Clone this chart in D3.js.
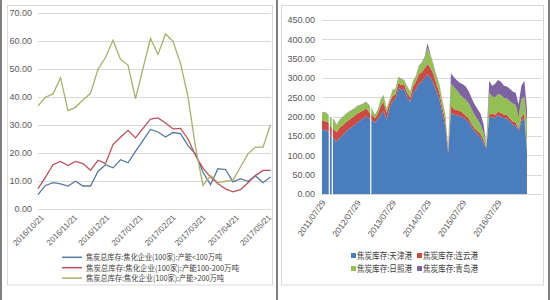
<!DOCTYPE html>
<html>
<head>
<meta charset="utf-8">
<script src="https://cdn.jsdelivr.net/npm/d3@7"></script>
<style>
  body { margin: 0; background: #fff; }
  text { font-family: "Liberation Sans", Arial, sans-serif; }
  .cjk { font-family: "Noto Sans CJK SC", sans-serif; }
</style>
</head>
<body>
<script>
/* DATA - left chart (weekly coke stock at coking plants) */
const weekDates = ["2016/10/21","2016/10/28","2016/11/04","2016/11/11","2016/11/18","2016/11/25",
  "2016/12/02","2016/12/09","2016/12/16","2016/12/23","2016/12/30","2017/01/06","2017/01/13",
  "2017/01/20","2017/01/27","2017/02/03","2017/02/10","2017/02/17","2017/02/24","2017/03/03",
  "2017/03/10","2017/03/17","2017/03/24","2017/03/31","2017/04/07","2017/04/14","2017/04/21",
  "2017/04/28","2017/05/05","2017/05/12","2017/05/19","2017/05/26"];
const capSmall = [5, 8.3, 9.3, 8.9, 8.1, 9.8, 8.1, 8.1, 13.3, 15.7, 14.6, 17.5, 16.4, 20.5, 24.4, 28.3,
  27.4, 25.6, 27.2, 26.8, 22.5, 19.5, 13, 8.6, 14.3, 14, 9.6, 10.7, 9.8, 11.7, 9.3, 11.3];
const capMid = [7.2, 11.3, 15.7, 16.9, 15.4, 16.9, 16.1, 13.7, 17.3, 16.1, 22.9, 25.5, 28, 25.3, 28.7, 32,
  32.4, 30.6, 28.5, 28.7, 24.9, 19, 14.5, 11.3, 8.9, 7.1, 6, 6.8, 9.3, 11.9, 13.7, 13.7];
const capBig = [36.7, 39.8, 41, 46.8, 35, 36.2, 38.8, 41.2, 49.8, 54, 60.2, 53.3, 51.3, 39.3, 50.1, 60.8,
  55.1, 62.4, 59.8, 51.9, 40, 22, 8.3, 11.9, 9.3, 9.8, 10.1, 14.9, 19.6, 22, 22, 30];
const leftNames = ["焦炭总库存:焦化企业(100家):产能<100万吨",
  "焦炭总库存:焦化企业(100家):产能100-200万吨",
  "焦炭总库存:焦化企业(100家):产能>200万吨"];
const leftTicks = ["2016/10/21","2016/11/21","2016/12/21","2017/01/21","2017/02/21","2017/03/21","2017/04/21","2017/05/21"];
const leftYTicks = [0, 10, 20, 30, 40, 50, 60, 70];

/* DATA - right chart (monthly coke stock at ports) */
const monthDates = ["2011/07/29","2011/08/29","2011/09/29","2011/10/29","2011/11/29","2011/12/29",
  "2012/01/29","2012/02/29","2012/03/29","2012/04/29","2012/05/29","2012/06/29","2012/07/29","2012/08/29",
  "2012/09/29","2012/10/29","2012/11/29","2012/12/29","2013/01/29","2013/02/28","2013/03/29","2013/04/29",
  "2013/05/29","2013/06/29","2013/07/29","2013/08/29","2013/09/29","2013/10/29","2013/11/29","2013/12/29",
  "2014/01/29","2014/02/28","2014/03/29","2014/04/29","2014/05/29","2014/06/29","2014/07/29","2014/08/29",
  "2014/09/29","2014/10/29","2014/11/29","2014/12/29","2015/01/29","2015/02/28","2015/03/29","2015/04/29",
  "2015/05/29","2015/06/29","2015/07/29","2015/08/29","2015/09/29","2015/10/29","2015/11/29","2015/12/29",
  "2016/01/29","2016/02/29","2016/03/29","2016/04/29","2016/05/29","2016/06/29","2016/07/29","2016/08/29",
  "2016/09/29","2016/10/29","2016/11/29","2016/12/29","2017/01/29","2017/02/28","2017/03/29","2017/04/29",
  "2017/05/26"];
const tianjin = [168,165,163,150,142,135,146,152,160,168,172,178,185,190,195,201,196,190,185,195,205,215,
  192,222,240,245,275,268,272,250,238,262,270,285,290,300,310,300,285,265,245,210,175,105,210,205,203,202,
  198,193,186,173,162,155,147,133,118,198,200,196,204,200,196,196,188,180,176,162,190,196,112];
const lianyungang = [23,23,23,24,25,25,26,26,25,23,24,24,23,22,21,20,16,15,11,13,23,23,18,14,13,13,12,14,
  12,12,12,16,20,25,25,25,26,25,25,20,17,15,15,9,18,15,14,13,12,10,10,9,8,8,9,8,4,8,8,9,9,10,9,8,8,8,9,6,
  10,13,6];
const rizhao = [19,24,19,22,25,18,20,21,21,21,20,19,19,18,17,17,17,15,8,10,17,17,11,7,15,14,15,15,10,16,
  14,14,15,20,23,27,42,33,22,20,20,17,14,6,57,56,51,43,40,41,39,38,34,30,24,19,6,56,44,45,45,46,43,43,
  44,46,45,30,45,43,62];
const qingdao = [1,1,1,1,1,1,1,1,1,1,1,1,1,1,1,1,1,1,1,1,1,1,1,1,1,1,1,1,1,1,1,1,1,2,2,3,12,2,2,2,2,2,2,
  2,27,26,26,30,34,34,31,28,28,27,28,22,2,31,28,35,37,34,32,31,32,31,32,34,35,40,40];
const gapDates = ["2011/10/13","2011/11/13","2012/12/16"];
const portNames = ["焦炭库存:天津港","焦炭库存:连云港","焦炭库存:日照港","焦炭库存:青岛港"];
const rightTicks = ["2011/07/29","2012/07/29","2013/07/29","2014/07/29","2015/07/29","2016/07/29"];
const rightYTicks = [0, 50, 100, 150, 200, 250, 300, 350, 400, 450];

/* CONSTANTS */
const width = 550, height = 300;
const parse = d3.timeParse("%Y/%m/%d");
const lineColors = ["#55799f", "#b8525a", "#a7b06a"];
const areaColors = ["#4a7dbd", "#c94b43", "#93bf55", "#7d63a0"];
const gridColor = "#d9d9d9";
const labelColor = "#595959";

const svg = d3.select("body").append("svg")
  .attr("width", width)
  .attr("height", height);

svg.append("rect").attr("width", width).attr("height", height).attr("fill", "#fff");

// panel frames
svg.append("rect").attr("x", 7.5).attr("y", 5.5).attr("width", 265).attr("height", 279.5)
  .attr("fill", "none").attr("stroke", gridColor);
svg.append("rect").attr("x", 281.5).attr("y", 5.5).attr("width", 262).attr("height", 279.5)
  .attr("fill", "none").attr("stroke", gridColor);
[1, 277, 549].forEach(x => {
  svg.append("line").attr("x1", x).attr("x2", x).attr("y1", 0).attr("y2", height)
    .attr("stroke", "#7f7f7f").attr("stroke-width", 2);
});

/* LEFT CHART */
const xL = d3.scaleTime()
  .domain([parse("2016/10/21"), parse("2017/05/26")])
  .range([38, 270.5]);
const yL = d3.scaleLinear().domain([0, 70]).range([208.7, 12.7]);

const gL = svg.append("g");
gL.selectAll("line.grid")
  .data(leftYTicks)
  .join("line")
  .attr("class", "grid")
  .attr("x1", 38).attr("x2", 271)
  .attr("y1", d => Math.round(yL(d)) + 0.5)
  .attr("y2", d => Math.round(yL(d)) + 0.5)
  .attr("stroke", gridColor);

const yAxisL = gL.append("g")
  .attr("transform", "translate(38,0)")
  .call(d3.axisLeft(yL).tickValues(leftYTicks).tickFormat(d3.format(".2f")).tickSize(0).tickPadding(6));
yAxisL.select(".domain").remove();
yAxisL.selectAll("text").attr("fill", labelColor).style("font-size", "9px");

const xAxisL = gL.append("g")
  .attr("transform", "translate(0,209)")
  .call(d3.axisBottom(xL).tickValues(leftTicks.map(parse)).tickFormat(d3.timeFormat("%Y/%m/%d")).tickSize(0));
xAxisL.select(".domain").remove();
xAxisL.selectAll("text")
  .attr("fill", labelColor)
  .style("font-size", "8px")
  .attr("text-anchor", "end")
  .attr("x", 0).attr("y", 0).attr("dy", "0.35em")
  .attr("transform", "translate(4,7) rotate(-45)");

const seriesL = [capSmall, capMid, capBig];
const lineL = d3.line()
  .x((d, i) => xL(parse(weekDates[i])))
  .y(d => yL(d));

gL.selectAll("path.series")
  .data(seriesL)
  .join("path")
  .attr("class", "series")
  .attr("d", d => lineL(d))
  .attr("fill", "none")
  .attr("stroke", (d, i) => lineColors[i])
  .attr("stroke-width", 1.3);

// left legend
const legL = gL.selectAll("g.leg")
  .data(leftNames)
  .join("g")
  .attr("class", "leg")
  .attr("transform", (d, i) => `translate(62,${257.3 + i * 10.4})`);
legL.append("line")
  .attr("x1", 0).attr("x2", 20).attr("y1", 0).attr("y2", 0)
  .attr("stroke", (d, i) => lineColors[i]).attr("stroke-width", 1.5);
const legWidths = [136, 153, 138];
legL.append("text")
  .attr("class", "cjk")
  .attr("x", 24).attr("dy", "0.35em")
  .attr("textLength", (d, i) => legWidths[i])
  .attr("lengthAdjust", "spacingAndGlyphs")
  .style("font-size", "8px")
  .attr("fill", "#404040")
  .text(d => d);

/* RIGHT CHART */
const xR = d3.scaleTime()
  .domain([parse("2011/07/29"), parse("2017/10/29")])
  .range([322, 542]);
const yR = d3.scaleLinear().domain([0, 450]).range([194, 20]);

const gR = svg.append("g");
gR.selectAll("line.grid")
  .data(rightYTicks)
  .join("line")
  .attr("class", "grid")
  .attr("x1", 322).attr("x2", 542)
  .attr("y1", d => Math.round(yR(d)) + 0.5)
  .attr("y2", d => Math.round(yR(d)) + 0.5)
  .attr("stroke", gridColor);

const yAxisR = gR.append("g")
  .attr("transform", "translate(322,0)")
  .call(d3.axisLeft(yR).tickValues(rightYTicks).tickFormat(d3.format(".2f")).tickSize(0).tickPadding(7));
yAxisR.select(".domain").remove();
yAxisR.selectAll("text").attr("fill", labelColor).style("font-size", "9px");

const xAxisR = gR.append("g")
  .attr("transform", "translate(0,194)")
  .call(d3.axisBottom(xR).tickValues(rightTicks.map(parse)).tickFormat(d3.timeFormat("%Y/%m/%d")).tickSize(0));
xAxisR.select(".domain").remove();
xAxisR.selectAll("text")
  .attr("fill", labelColor)
  .style("font-size", "8.5px")
  .attr("text-anchor", "end")
  .attr("x", 0).attr("y", 0).attr("dy", "0.35em")
  .attr("transform", "translate(1,7) rotate(-55)");

const rows = monthDates.map((d, i) => ({
  date: parse(d),
  tianjin: tianjin[i],
  lianyungang: lianyungang[i],
  rizhao: rizhao[i],
  qingdao: qingdao[i]
}));
const keys = ["tianjin", "lianyungang", "rizhao", "qingdao"];
const stacked = d3.stack().keys(keys)(rows);
const areaR = d3.area()
  .x(d => xR(d.data.date))
  .y0(d => yR(d[0]))
  .y1(d => yR(d[1]));

gR.selectAll("path.layer")
  .data(stacked)
  .join("path")
  .attr("class", "layer")
  .attr("d", areaR)
  .attr("fill", (d, i) => areaColors[i]);

// days with missing readings show as thin white cuts
gR.selectAll("line.gap")
  .data(gapDates)
  .join("line")
  .attr("class", "gap")
  .attr("x1", d => xR(parse(d))).attr("x2", d => xR(parse(d)))
  .attr("y1", yR(0)).attr("y2", yR(240))
  .attr("stroke", "#fff").attr("stroke-width", 1.2);

// right legend
const legR = gR.selectAll("g.leg")
  .data(portNames)
  .join("g")
  .attr("class", "leg")
  .attr("transform", (d, i) => `translate(${351 + (i % 2) * 66},${255.5 + Math.floor(i / 2) * 13})`);
legR.append("rect")
  .attr("x", 0).attr("y", -2.5).attr("width", 5).attr("height", 5)
  .attr("fill", (d, i) => areaColors[i]);
legR.append("text")
  .attr("class", "cjk")
  .attr("x", 6).attr("dy", "0.35em")
  .attr("textLength", 55)
  .attr("lengthAdjust", "spacingAndGlyphs")
  .style("font-size", "9px")
  .attr("fill", "#404040")
  .text(d => d);
</script>
</body>
</html>
